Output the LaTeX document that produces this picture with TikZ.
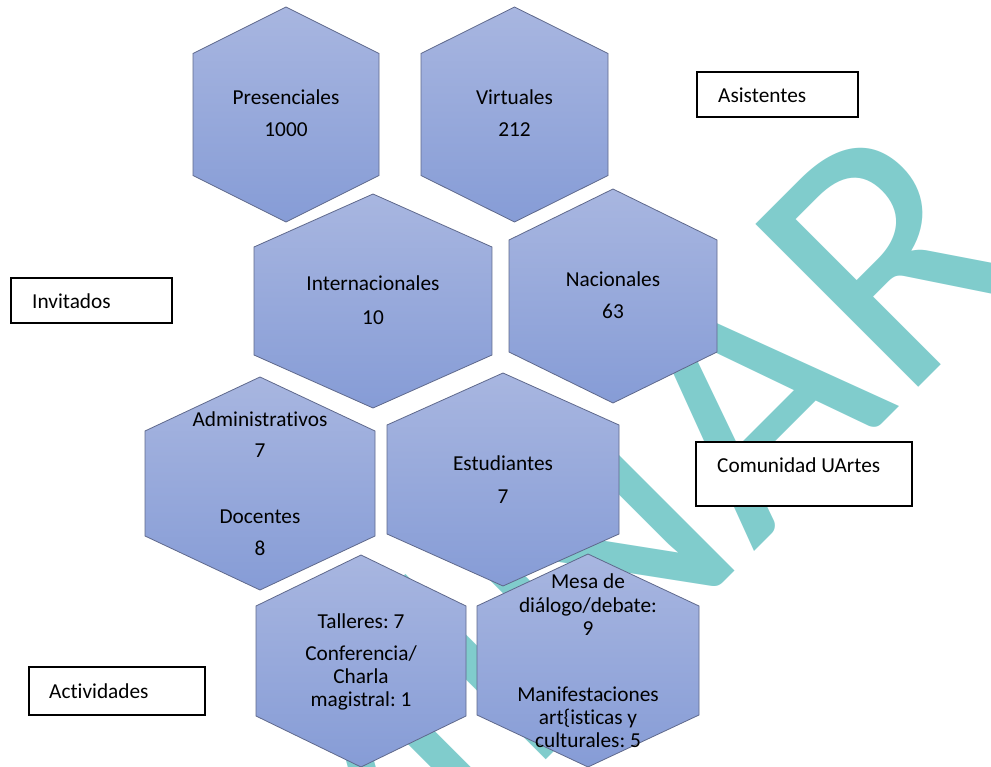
\documentclass[tikz,border=0pt]{standalone}
\usepackage{fontspec}
\setmainfont{Carlito}[Ligatures={NoCommon}]
\frenchspacing
\definecolor{wm}{RGB}{128,204,204}
\definecolor{hextop}{RGB}{168,182,224}
\definecolor{hexbot}{RGB}{134,156,214}
\definecolor{hexline}{RGB}{95,105,140}
\tikzset{
  hexa/.style={draw=hexline, line width=0.8pt, top color=hextop, bottom color=hexbot},
  lbl/.style={font=\fontsize{21.3}{23}\selectfont, anchor=base, inner sep=0pt},
  boxlbl/.style={font=\fontsize{21.3}{23}\selectfont, anchor=base west, inner sep=0pt},
  frame/.style={draw=black, line width=1.2pt, fill=white},
}
% cx, ytop, width, height, shoulder
\newcommand\hexshape[5]{\path[hexa] (#1,#2) -- ({#1+#3/2},{#2+#5}) -- ({#1+#3/2},{#2+#4-#5}) -- (#1,{#2+#4}) -- ({#1-#3/2},{#2+#4-#5}) -- ({#1-#3/2},{#2+#5}) -- cycle;}
\begin{document}
\begin{tikzpicture}[x=1pt,y=-1pt]
\useasboundingbox (0,0) rectangle (991,767);
\clip (0,0) rectangle (991,767);
\fill[white] (0,0) rectangle (991,767);
% watermark
\node[font=\fontsize{359}{359}\selectfont, text=wm, rotate=45, anchor=base east, inner sep=0pt] (wmark) at (1038,268) {PRELIMINAR};
% hexagons
\hexshape{286}{7}{186}{215}{46.5}
\hexshape{514.5}{7}{187}{215}{46.5}
\hexshape{373}{194}{238}{214}{53}
\hexshape{613}{189}{208}{214}{51}
\hexshape{260}{377}{230}{213}{54}
\hexshape{503}{373}{232}{213}{52}
\hexshape{361}{555}{210}{212}{51}
\hexshape{588}{554}{222}{213}{52}
% hexagon texts
\node[lbl] (pres) at (286,105) {Presenciales};
\node[lbl] (presn) at (286,137) {1000};
\node[lbl] (virt) at (514.5,105) {Virtuales};
\node[lbl] (virtn) at (514.5,137) {212};
\node[lbl] (inter) at (373,291) {Internacionales};
\node[lbl] (intern) at (373,325) {10};
\node[lbl] (nac) at (613,287) {Nacionales};
\node[lbl] (nacn) at (613,319) {63};
\node[lbl] (adm) at (260,426) {Administrativos};
\node[lbl] (admn) at (260,457) {7};
\node[lbl] (doc) at (260,523) {Docentes};
\node[lbl] (docn) at (260,555) {8};
\node[lbl] (est) at (503,470) {Estudiantes};
\node[lbl] (estn) at (503,503) {7};
\node[lbl] (tal1) at (361,628) {Talleres: 7};
\node[lbl] (tal2) at (361,660) {Conferencia/};
\node[lbl] (tal3) at (361,683) {Charla};
\node[lbl] (tal4) at (361,706) {magistral: 1};
\node[lbl] (mes1) at (588,588) {Mesa de};
\node[lbl] (mes2) at (588,612) {diálogo/debate:};
\node[lbl] (mes3) at (588,635) {9};
\node[lbl] (man1) at (588,701) {Manifestaciones};
\node[lbl] (man2) at (588,724) {art\{isticas y};
\node[lbl] (man3) at (588,747) {culturales: 5};
% boxes
\path[frame] (697,72) rectangle (858,117);
\node[boxlbl] (asist) at (718,103) {Asistentes};
\path[frame] (11,278) rectangle (172,323);
\node[boxlbl] (invit) at (32,309) {Invitados};
\path[frame] (696,442) rectangle (912,506);
\node[boxlbl] (comun) at (717,472) {Comunidad UArtes};
\path[frame] (29,667) rectangle (205,715);
\node[boxlbl] (activ) at (49,698) {Actividades};
\end{tikzpicture}
\end{document}
